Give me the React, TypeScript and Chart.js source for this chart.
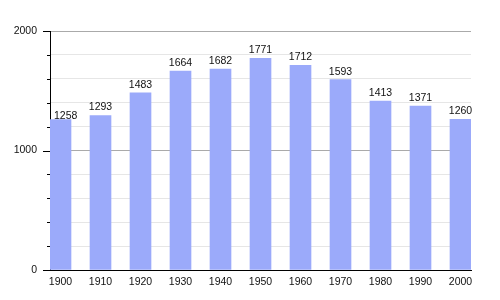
import React, { useEffect, useRef } from "react";
import { Chart, registerables } from "chart.js";

Chart.register(...registerables);

const years = [1900, 1910, 1920, 1930, 1940, 1950, 1960, 1970, 1980, 1990, 2000];
const population = [1258, 1293, 1483, 1664, 1682, 1771, 1712, 1593, 1413, 1371, 1260];
const yMajorTicks = [0, 1000, 2000];

const FONT = "'Liberation Sans', Arial, sans-serif";

const tickMarks = {
  id: "tickMarks",
  afterDraw(chart: any) {
    const ctx = chart.ctx;
    const y = chart.scales.y;
    ctx.save();
    ctx.strokeStyle = "#000";
    ctx.lineWidth = 1;
    y.ticks.forEach((t: any) => {
      const py = Math.round(y.getPixelForValue(t.value)) + 0.5;
      const len = yMajorTicks.includes(t.value) ? 7 : 3;
      ctx.beginPath();
      ctx.moveTo(y.right - len, py);
      ctx.lineTo(y.right, py);
      ctx.stroke();
    });
    ctx.restore();
  },
};

const valueLabels = {
  id: "valueLabels",
  afterDatasetsDraw(chart: any) {
    const ctx = chart.ctx;
    const meta = chart.getDatasetMeta(0);
    const left = chart.chartArea.left;
    ctx.save();
    ctx.font = `10.5px ${FONT}`;
    ctx.fillStyle = "#111";
    ctx.textAlign = "center";
    ctx.textBaseline = "alphabetic";
    meta.data.forEach((bar: any, i: number) => {
      const text = String(population[i]);
      const w = ctx.measureText(text).width;
      const minX = left + 4 + w / 2;
      const clamped = bar.x < minX;
      const x = clamped ? minX : bar.x;
      const y = clamped ? bar.y - 1 : bar.y - 5;
      ctx.fillText(text, x, y);
    });
    ctx.restore();
  },
};

export default function App() {
  const ref = useRef<HTMLCanvasElement | null>(null);
  useEffect(() => {
    document.body.style.margin = "0";
    const chart = new Chart(ref.current as HTMLCanvasElement, {
      type: "bar",
      data: {
        datasets: [
          {
            data: years.map((x, i) => ({ x, y: population[i] })),
            backgroundColor: "rgb(155,170,250)",
            borderWidth: 0,
            barThickness: 21,
          },
        ],
      },
      options: {
        animation: false,
        responsive: false,
        maintainAspectRatio: false,
        layout: { padding: { top: 31, right: 29, left: 0, bottom: 0 } },
        plugins: { legend: { display: false }, tooltip: { enabled: false } },
        scales: {
          x: {
            type: "linear",
            offset: false,
            min: 1897.375,
            max: 2002.625,
            grid: { display: false, drawTicks: false, offset: false },
            border: { display: true, color: "#000", width: 1 },
            afterBuildTicks: (scale: any) => {
              scale.ticks = years.map((v) => ({ value: v }));
            },
            afterFit: (scale: any) => {
              scale.height = 30;
            },
            ticks: {
              autoSkip: false,
              maxRotation: 0,
              padding: 6,
              color: "#111",
              font: { family: FONT, size: 10.5 },
              callback: (v: any) => String(v),
            },
          },
          y: {
            min: 0,
            max: 2000,
            grid: {
              drawTicks: false,
              color: (c: any) =>
                c.tick && yMajorTicks.includes(c.tick.value) ? "#aaaaaa" : "#e6e6e6",
            },
            border: { display: true, color: "#000", width: 1 },
            afterFit: (scale: any) => {
              scale.width = 50;
            },
            ticks: {
              stepSize: 200,
              padding: 13,
              color: "#111",
              font: { family: FONT, size: 10.5 },
              callback: (v: any) => (yMajorTicks.includes(v) ? String(v) : ""),
            },
          },
        },
      },
      plugins: [tickMarks, valueLabels],
    } as any);
    return () => chart.destroy();
  }, []);
  return (
    <div style={{ position: "absolute", left: 0, top: 0, width: 500, height: 300, background: "#fff" }}>
      <canvas ref={ref} width={500} height={300} />
    </div>
  );
}
